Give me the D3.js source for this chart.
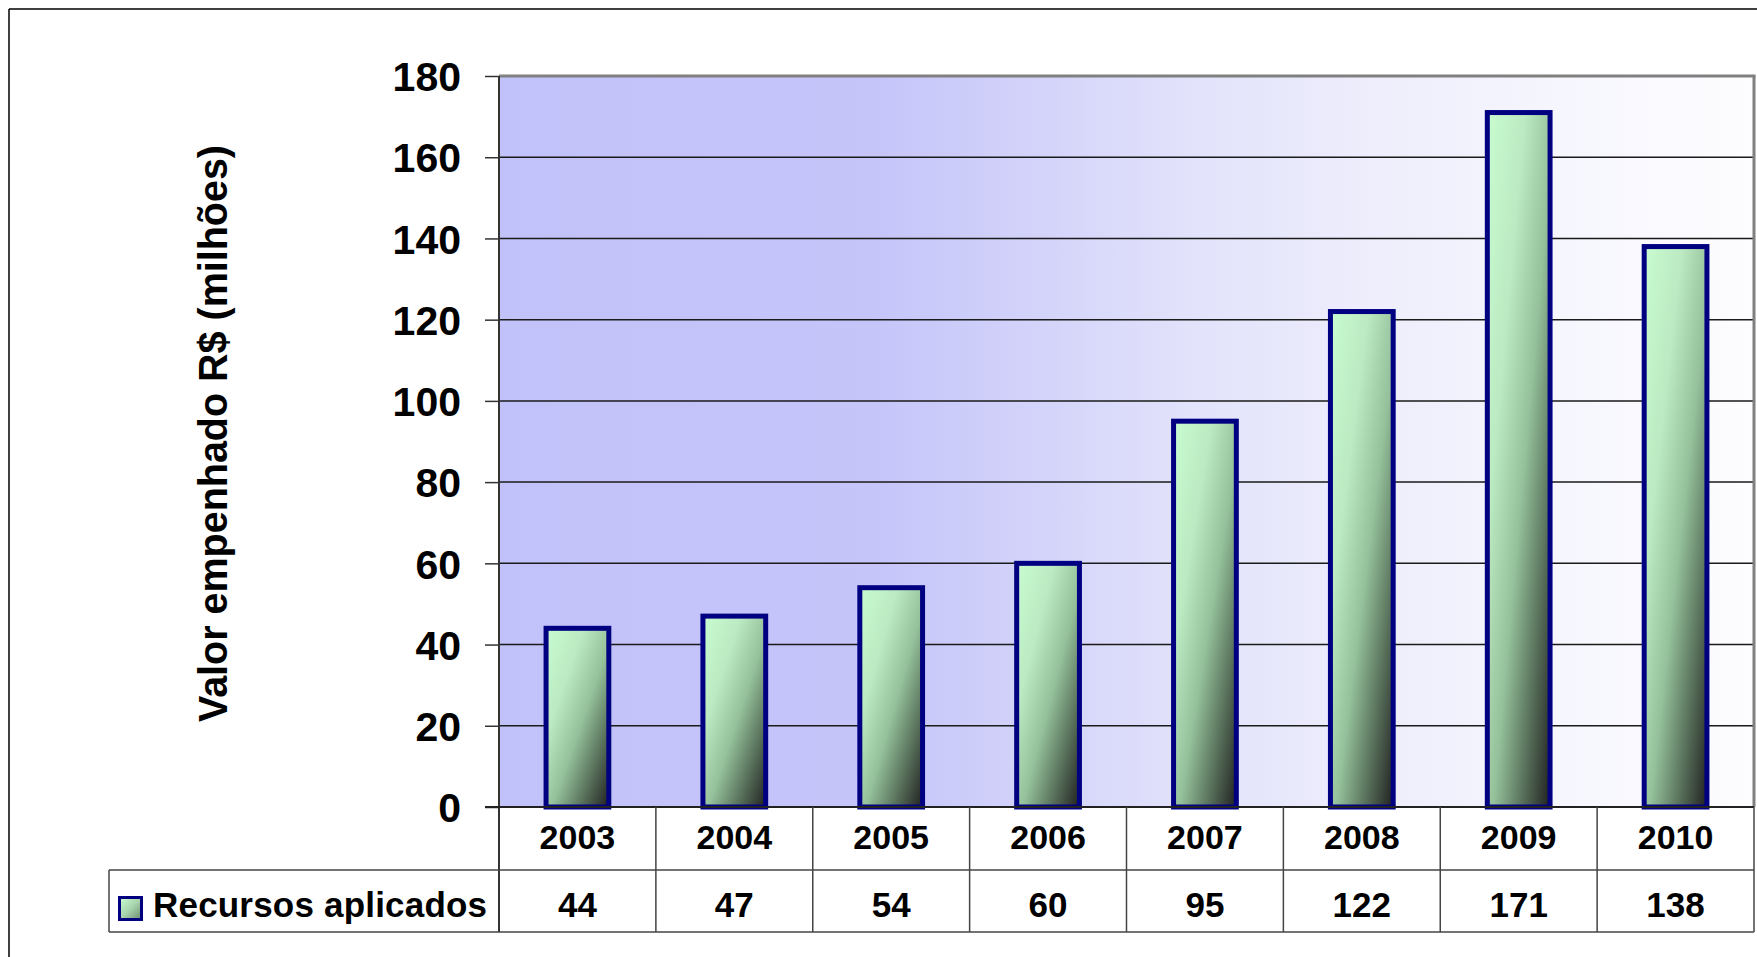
<!DOCTYPE html>
<html><head><meta charset="utf-8">
<script src="https://cdn.jsdelivr.net/npm/d3@7"></script>
<style>
html,body{margin:0;padding:0;background:#fff;}
svg{display:block;font-family:"Liberation Sans",Arial,sans-serif;font-weight:bold;}
</style></head>
<body>
<svg id="chart" width="1757" height="957"></svg>
<script>
const years = ["2003","2004","2005","2006","2007","2008","2009","2010"];
const values = [44, 47, 54, 60, 95, 122, 171, 138];
const yTicks = [0, 20, 40, 60, 80, 100, 120, 140, 160, 180];
const seriesName = "Recursos aplicados";
const yTitle = "Valor empenhado R$ (milhões)";

const svg = d3.select("#chart");
const L = 499, R = 1754, T = 76, B = 807;
const row1 = 870, row2 = 932, legendLeft = 109;

const x = d3.scaleBand().domain(years).range([L, R]).paddingInner(0).paddingOuter(0);
const y = d3.scaleLinear().domain([0, 180]).range([B, T]);

const defs = svg.append("defs");
const bg = defs.append("linearGradient").attr("id","bg").attr("x1",0).attr("y1",0).attr("x2",1).attr("y2",0);
[[0,"#c2c2fa"],[0.3,"#c5c5fa"],[0.42,"#d2d2fa"],[0.55,"#e2e2fb"],[0.7,"#eeeefc"],[0.85,"#f6f6fe"],[1,"#fdfdff"]]
  .forEach(s=>bg.append("stop").attr("offset",s[0]).attr("stop-color",s[1]));
const bar = defs.append("linearGradient").attr("id","barg").attr("x1",0).attr("y1",0).attr("x2",1).attr("y2",1);
[[0,"#c8fcd0"],[0.3,"#bceac2"],[0.55,"#94c09a"],[0.75,"#5f7a62"],[1,"#202020"]]
  .forEach(s=>bar.append("stop").attr("offset",s[0]).attr("stop-color",s[1]));

// outer frame
svg.append("line").attr("x1",9).attr("x2",1757).attr("y1",9).attr("y2",9).attr("stroke","#000").attr("stroke-width",1.5);
svg.append("line").attr("x1",9).attr("x2",9).attr("y1",9).attr("y2",957).attr("stroke","#000").attr("stroke-width",1.5);

// plot background
svg.append("rect").attr("x",L).attr("y",T).attr("width",R-L).attr("height",B-T).attr("fill","url(#bg)");

// gridlines
svg.append("g").selectAll("line").data(yTicks.filter(d=>d>0 && d<180)).join("line")
  .attr("x1",L).attr("x2",R).attr("y1",d=>y(d)).attr("y2",d=>y(d))
  .attr("stroke","#1a1a1a").attr("stroke-width",1.5);

// plot border top/right
svg.append("line").attr("x1",L).attr("x2",R+1.5).attr("y1",T).attr("y2",T).attr("stroke","#808080").attr("stroke-width",3);
svg.append("line").attr("x1",R).attr("x2",R).attr("y1",T).attr("y2",B).attr("stroke","#808080").attr("stroke-width",3);

// bars
const bw = x.bandwidth()*0.4;
svg.append("g").selectAll("rect").data(values).join("rect")
  .attr("x",(d,i)=>x(years[i])+x.bandwidth()/2-bw/2)
  .attr("y",d=>y(d))
  .attr("width",bw)
  .attr("height",d=>y(0)-y(d))
  .attr("fill","url(#barg)")
  .attr("stroke","#000080").attr("stroke-width",5);

// y axis
const ax = svg.append("g").attr("transform",`translate(${L},0)`)
  .call(d3.axisLeft(y).tickValues(yTicks).tickSize(14).tickPadding(24));
ax.select(".domain").remove();
ax.selectAll(".tick line").attr("stroke","#333").attr("stroke-width",1.5);
ax.selectAll(".tick text").attr("font-size",41).attr("font-weight","bold").attr("fill","#000")
  .attr("font-family","'Liberation Sans',Arial,sans-serif").attr("dy","0.36em");
svg.append("line").attr("x1",L).attr("x2",L).attr("y1",T).attr("y2",row2).attr("stroke","#333").attr("stroke-width",2);
svg.append("line").attr("x1",L-14).attr("x2",R).attr("y1",B).attr("y2",B).attr("stroke","#222").attr("stroke-width",2);

// y title
svg.append("text").attr("transform","translate(227,433.5) rotate(-90)")
  .attr("text-anchor","middle").attr("font-size",40).attr("fill","#000")
  .attr("textLength",577).attr("lengthAdjust","spacingAndGlyphs").text(yTitle);

// data table
const tbl = svg.append("g");
tbl.append("line").attr("x1",legendLeft).attr("x2",R).attr("y1",row1).attr("y2",row1).attr("stroke","#444").attr("stroke-width",1.5);
tbl.append("line").attr("x1",legendLeft).attr("x2",R).attr("y1",row2).attr("y2",row2).attr("stroke","#444").attr("stroke-width",1.5);
tbl.append("line").attr("x1",legendLeft).attr("x2",legendLeft).attr("y1",row1).attr("y2",row2).attr("stroke","#444").attr("stroke-width",1.5);
tbl.selectAll("line.v").data(years.slice(1).map(d=>x(d)).concat([R])).join("line").attr("class","v")
  .attr("x1",d=>d).attr("x2",d=>d).attr("y1",B).attr("y2",row2).attr("stroke","#444").attr("stroke-width",1.5);
tbl.selectAll("text.yr").data(years).join("text").attr("class","yr")
  .attr("x",d=>x(d)+x.bandwidth()/2).attr("y",849).attr("text-anchor","middle")
  .attr("font-size",34).attr("fill","#000").text(d=>d);
tbl.selectAll("text.val").data(values).join("text").attr("class","val")
  .attr("x",(d,i)=>x(years[i])+x.bandwidth()/2).attr("y",917).attr("text-anchor","middle")
  .attr("font-size",35).attr("fill","#000").text(d=>d);

// legend
const lg = defs.append("linearGradient").attr("id","lg").attr("x1",0).attr("y1",0).attr("x2",1).attr("y2",1);
[[0,"#ccffd2"],[0.5,"#a8d4ae"],[1,"#6a8a6e"]].forEach(s=>lg.append("stop").attr("offset",s[0]).attr("stop-color",s[1]));
tbl.append("rect").attr("x",119.5).attr("y",897.5).attr("width",22).attr("height",22)
  .attr("fill","url(#lg)").attr("stroke","#000080").attr("stroke-width",3);
tbl.append("text").attr("x",153).attr("y",917).attr("font-size",35).attr("fill","#000")
  .attr("textLength",334).attr("lengthAdjust","spacing").text(seriesName);
</script>
</body></html>
